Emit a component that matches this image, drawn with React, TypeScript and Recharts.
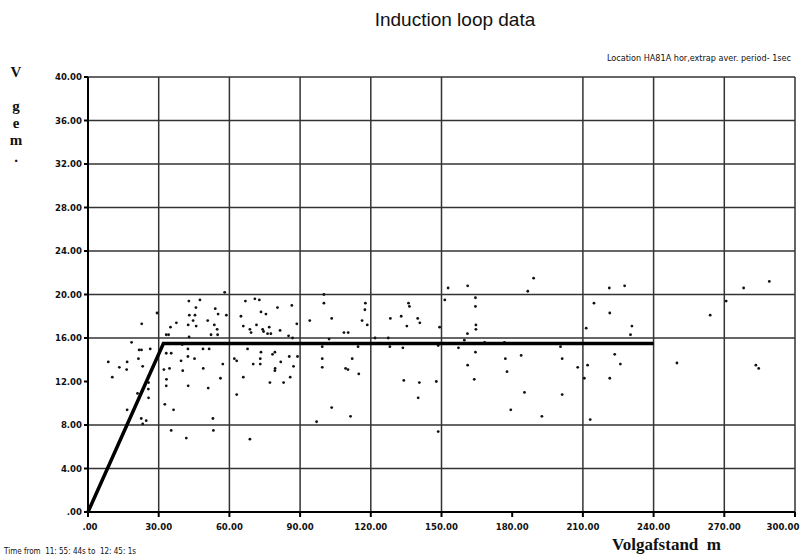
import { ScatterChart, Scatter, XAxis, YAxis, CartesianGrid } from "recharts";

// scatter points, [volgafstand, v gem]
const pointsNear: [number, number][] = [
  [29.3, 18.3], [22.8, 17.3], [18.5, 15.6], [21.7, 14.9], [22.7, 14.9], [26.4, 15.0],
  [21.4, 14.1], [8.6, 13.8], [16.6, 13.8], [13.3, 13.3], [16.4, 13.1], [23.2, 13.4],
  [10.3, 12.4], [25.7, 11.9], [25.6, 11.3], [25.7, 10.5], [21.0, 10.9], [16.6, 9.4],
  [22.6, 8.6], [24.7, 8.4], [23.2, 8.1],
  [58.0, 20.2], [42.8, 19.4], [47.5, 19.5], [45.8, 18.8], [54.0, 18.7], [55.2, 18.2],
  [58.7, 18.1], [43.0, 18.1], [45.4, 18.1], [50.8, 17.6], [37.5, 17.4], [44.6, 17.6],
  [42.5, 17.2], [45.9, 17.1], [35.0, 17.0], [53.6, 17.2], [54.8, 16.8], [33.2, 16.3],
  [34.2, 16.3], [42.9, 16.1], [52.2, 16.3], [55.0, 16.3], [40.0, 15.4], [42.4, 15.0],
  [33.2, 14.6], [35.3, 14.6], [42.4, 14.3], [45.2, 14.1], [39.5, 13.9], [48.8, 15.0],
  [51.4, 15.0], [32.2, 13.1], [34.6, 13.2], [40.2, 13.0], [48.9, 13.2], [57.2, 13.6],
  [33.3, 12.2], [56.2, 12.3], [33.2, 11.6], [42.5, 11.6], [51.0, 11.4], [32.6, 9.9],
  [36.3, 9.4], [53.0, 8.6], [35.3, 7.5], [41.7, 6.8], [53.2, 7.5],
];

const pointsMid: [number, number][] = [
  [66.8, 19.4], [70.8, 19.6], [72.7, 19.5], [86.5, 19.0], [80.4, 18.8], [73.4, 18.4],
  [75.5, 18.2], [64.9, 18.0], [65.9, 17.1], [71.5, 17.2], [68.7, 16.8], [69.2, 16.5],
  [74.1, 16.8], [74.5, 16.6], [76.9, 17.0], [76.2, 16.4], [77.6, 16.4], [81.5, 16.7],
  [85.1, 16.2], [88.6, 17.3], [86.8, 16.0], [67.7, 15.0], [73.4, 14.7], [79.3, 14.7],
  [78.3, 14.5], [62.1, 14.1], [63.1, 13.9], [73.1, 14.1], [85.4, 14.3], [88.9, 14.3],
  [81.8, 13.8], [70.1, 13.6], [73.1, 13.6], [87.2, 13.4], [79.4, 13.2], [79.3, 13.0],
  [65.9, 12.4], [85.8, 12.4], [77.2, 11.9], [83.0, 11.9], [63.1, 10.8], [68.7, 6.7],
  [100.1, 20.0], [100.1, 19.2], [117.7, 19.2], [117.5, 18.6], [94.1, 17.6], [103.4, 17.8],
  [116.3, 17.6], [118.5, 17.2], [108.6, 16.5], [110.4, 16.5], [102.3, 15.9], [99.4, 15.2],
  [114.6, 15.2], [99.4, 14.1], [112.1, 14.1], [99.4, 13.3], [109.3, 13.2], [110.3, 13.1],
  [114.9, 12.7], [103.4, 9.6], [111.4, 8.8], [97.0, 8.3],
];

const pointsFar: [number, number][] = [
  [152.8, 20.6], [161.1, 20.8], [151.4, 19.5], [164.4, 19.7], [136.0, 19.2], [136.4, 18.9],
  [164.4, 18.9], [132.9, 18.0], [128.3, 17.8], [139.9, 17.8], [140.8, 17.4], [135.3, 17.1],
  [149.2, 17.0], [164.6, 17.2], [164.6, 16.8], [161.0, 16.4], [121.8, 16.0], [127.4, 16.0],
  [159.7, 15.8], [168.3, 15.6], [176.7, 15.6], [128.1, 15.2], [133.6, 15.1], [148.6, 15.3],
  [157.2, 15.1], [164.4, 14.7], [177.1, 14.1], [161.1, 13.5], [177.8, 12.9], [134.0, 12.1],
  [140.6, 11.9], [147.8, 12.0], [163.9, 12.2], [140.1, 10.5], [148.6, 7.4],
];

const pointsTail: [number, number][] = [
  [189.1, 21.5], [186.6, 20.3], [221.2, 20.6], [227.7, 20.8], [214.7, 19.2], [221.4, 18.3],
  [211.4, 16.9], [230.8, 17.1], [230.2, 16.3], [200.5, 15.2], [183.8, 14.4], [201.2, 14.1],
  [223.5, 14.5], [207.8, 13.3], [212.0, 13.5], [225.9, 13.6], [210.6, 12.3], [221.4, 12.3],
  [185.2, 11.0], [201.2, 10.8], [179.4, 9.4], [192.6, 8.8], [213.1, 8.5],
  [278.2, 20.6], [289.1, 21.2], [270.8, 19.4], [264.0, 18.1], [249.9, 13.7], [283.4, 13.5],
  [284.6, 13.2],
];

// fitted curve: rising part then constant
const fitX = [0, 32, 240];
const fitY = [0, 15.5, 15.5];

const xTicks = [0, 30, 60, 90, 120, 150, 180, 210, 240, 270, 300];
const yTicks = [0, 4, 8, 12, 16, 20, 24, 28, 32, 36, 40];
const gridX = [0, 30, 60, 90, 120, 150, 210, 240, 270, 300];
const gridY = [4, 8, 16, 20, 24, 28, 32, 36, 40];

const scatterData = [...pointsNear, ...pointsMid, ...pointsFar, ...pointsTail].map(([x, y]) => ({ x, y }));
const fitData = fitX.map((x, i) => ({ x, y: fitY[i] }));

const fmt = (v: number) => (v === 0 ? ".00" : v.toFixed(2));
const font = "'DejaVu Sans Condensed', 'Liberation Sans Narrow', 'Liberation Sans', sans-serif";
const tickFont = { fill: "#111", fontSize: 9.5, fontWeight: 700, fontFamily: font };
const serif = "'Liberation Serif', 'DejaVu Serif', serif";

const Dot = (props: any) => <circle cx={props.cx} cy={props.cy} r={1.4} fill="#111" />;

// x tick labels; the last one pulled left so it stays inside the picture
const XTick = (props: any) => {
  const { x, y, payload } = props;
  const v = payload.value;
  const shift = v === 300 ? -12 : v === 0 ? 2 : 0;
  return (
    <text x={x + shift} y={y + 11} textAnchor="middle" {...tickFont}>
      {fmt(v)}
    </text>
  );
};

export default function App() {
  return (
    <div style={{ position: "absolute", left: 0, top: 0, width: 805, height: 559, background: "#fff" }}>
      <div style={{ position: "absolute", left: 0, width: 805, top: 9, textAlign: "center", paddingLeft: 105, boxSizing: "border-box", fontFamily: "'Liberation Sans', Arial, sans-serif", fontSize: 19, color: "#111" }}>
        Induction loop data
      </div>
      <div style={{ position: "absolute", right: 14, top: 53, fontFamily: font, fontSize: 9, color: "#111" }}>
        Location HA81A hor,extrap aver. period- 1sec
      </div>
      <div style={{ position: "absolute", left: 8, top: 64, width: 16, textAlign: "center", fontFamily: serif, fontWeight: 700, fontSize: 15, lineHeight: "17px", color: "#111" }}>
        V<br /><br />g<br />e<br />m<br />.
      </div>
      <div style={{ position: "absolute", left: 612, top: 536, fontFamily: serif, fontWeight: 700, fontSize: 17, lineHeight: "18px", color: "#111", whiteSpace: "pre" }}>
        {"Volgafstand  m"}
      </div>
      <div style={{ position: "absolute", left: 4, top: 547, fontFamily: font, fontSize: 8, color: "#111", whiteSpace: "pre" }}>
        {"Time from  11: 55: 44s to  12: 45: 1s"}
      </div>
      <div style={{ position: "absolute", left: 0, top: 0 }}>
        <ScatterChart width={805} height={559} margin={{ top: 77, right: 10, left: 0, bottom: 17 }}>
          <CartesianGrid
            stroke="#333"
            strokeWidth={1.5}
            horizontalValues={gridY}
            verticalValues={gridX}
          />
          <XAxis
            type="number"
            dataKey="x"
            domain={[0, 300]}
            ticks={xTicks}
            interval={0}
            tick={<XTick />}
            tickSize={5}
            height={30}
            stroke="#000"
            strokeWidth={2}
          />
          <YAxis
            type="number"
            dataKey="y"
            domain={[0, 40]}
            ticks={yTicks}
            interval={0}
            tickFormatter={fmt}
            tick={tickFont}
            tickSize={4}
            width={88}
            stroke="#000"
            strokeWidth={2}
          />
          <Scatter data={scatterData} shape={Dot} isAnimationActive={false} />
          <Scatter
            data={fitData}
            line={{ stroke: "#000", strokeWidth: 3.5 }}
            shape={() => <g />}
            isAnimationActive={false}
          />
        </ScatterChart>
      </div>
    </div>
  );
}
